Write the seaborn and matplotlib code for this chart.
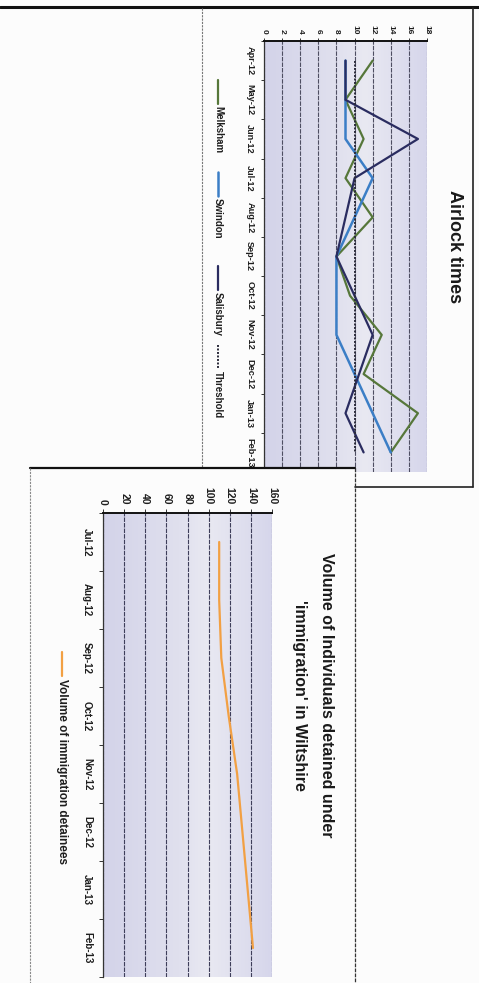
import numpy as np
import pandas as pd
import matplotlib
matplotlib.use("Agg")
import matplotlib.pyplot as plt
import seaborn as sns
from matplotlib.lines import Line2D
from matplotlib.patches import Rectangle
from matplotlib.colors import LinearSegmentedColormap

# ---------------- data ----------------
months1 = ["Apr-12", "May-12", "Jun-12", "Jul-12", "Aug-12", "Sep-12",
           "Oct-12", "Nov-12", "Dec-12", "Jan-13", "Feb-13"]
melksham = [12, 9, 11, 9, 12, 8, 9.5, 13, 11, 17, 14]
swindon = [9, 9, 9, 12, 10, 8, 8, 8, 10, 12, 14]
salisbury = [9, 9, 17, 10, 9, 8, 10, 12, 10.5, 9, 11]
threshold = [10, 10, 10, 10, 10, 10, 10, 10, 10, 10, 10]
series_names1 = ["Melksham", "Swindon", "Salisbury", "Threshold"]
value_ticks1 = [0, 2, 4, 6, 8, 10, 12, 14, 16, 18]

months2 = ["Jul-12", "Aug-12", "Sep-12", "Oct-12", "Nov-12", "Dec-12", "Jan-13", "Feb-13"]
detainees = [110, 110, 112, 119, 127, 132, 137, 142]
value_ticks2 = [0, 20, 40, 60, 80, 100, 120, 140, 160]

title1 = "Airlock times"
title2a = "Volume of Individuals detained under"
title2b = "'immigration' in Wiltshire"
legend2 = "Volume of immigration detainees"

# ---------------- setup ----------------
sns.set_theme(style="white")
plt.rcParams["font.family"] = ["Liberation Sans", "DejaVu Sans"]

W, H = 479, 983
fig = plt.figure(figsize=(W / 100, H / 100), dpi=100)
fig.patch.set_facecolor("#fcfcfc")


def fx(px):
    return px / W


def fy(py):
    return 1 - py / H


styles1 = {
    "Melksham": dict(color="#56773a", lw=1.6, ls="-"),
    "Swindon": dict(color="#3b7ec6", lw=1.8, ls="-"),
    "Salisbury": dict(color="#2a2c60", lw=1.6, ls="-"),
    "Threshold": dict(color="#2b2b3a", lw=1.4, ls=(0, (1, 0.8))),
}

grad_cmap = LinearSegmentedColormap.from_list(
    "bg", [(0.0, "#d3d3e9"), (0.45, "#e0e0ee"), (0.62, "#e9e9f2"), (1.0, "#d6d6eb")])
grad = np.linspace(0, 1, 256).reshape(1, -1)

# ---------------- chart 1 ----------------
ax1 = fig.add_axes([fx(264), fy(472), fx(427) - fx(264), fy(41) - fy(472)])
ax1.set_zorder(0)
ax1.imshow(grad, cmap=grad_cmap, aspect="auto", extent=[0, 1, 0, 1],
           transform=ax1.transAxes, zorder=-2)

df1 = pd.DataFrame({
    "month": months1 * 4,
    "idx": list(range(len(months1))) * 4,
    "value": melksham + swindon + salisbury + threshold,
    "series": sum([[s] * len(months1) for s in series_names1], []),
})
for name in ["Melksham", "Swindon", "Salisbury", "Threshold"]:
    st = styles1[name]
    sns.lineplot(data=df1[df1["series"] == name], x="value", y="idx",
                 orient="y", sort=False, estimator=None, ax=ax1, legend=False,
                 color=st["color"], linewidth=st["lw"], linestyle=st["ls"])

ax1.set_xlim(0, 18)
ax1.set_ylim(len(months1) - 0.5, -0.5)
ax1.set_xlabel("")
ax1.set_ylabel("")
ax1.set_axisbelow(True)
ax1.grid(axis="x", color="#4e4e62", lw=0.8, ls=(0, (4, 1)))
ax1.grid(axis="y", visible=False)
ax1.xaxis.tick_top()
ax1.set_xticks(value_ticks1)
ax1.set_xticklabels([str(v) for v in value_ticks1], rotation=-90,
                    fontsize=6, fontweight="bold", color="#1e1e1e")
ax1.tick_params(axis="x", which="major", top=True, bottom=False, length=2.5,
                width=0.7, color="#333333", pad=2.5)
ax1.set_yticks(range(len(months1)))
ax1.set_yticklabels(months1, rotation=-90, va="center", fontsize=6.6,
                    fontweight="bold", color="#1e1e1e")
ax1.set_yticks(np.arange(-0.5, len(months1)), minor=True)
ax1.tick_params(axis="y", which="major", length=0, pad=7)
ax1.tick_params(axis="y", which="minor", left=True, length=2.5, width=0.7,
                color="#333333")
for s in ["right", "bottom"]:
    ax1.spines[s].set_visible(False)
ax1.spines["top"].set_color("#111111")
ax1.spines["top"].set_linewidth(1.4)
ax1.spines["left"].set_color("#333333")
ax1.spines["left"].set_linewidth(0.9)

fig.text(fx(455), fy(247), title1, rotation=-90, ha="center", va="center",
         fontsize=13, fontweight="bold", color="#1a1a1a")

# legend for chart 1 (rotated like the scan)
leg_starts = [80, 172, 266, 345]
for name, y0 in zip(series_names1, leg_starts):
    st = styles1[name]
    fig.add_artist(Line2D([fx(218), fx(218)], [fy(y0), fy(y0 + 24)],
                          color=st["color"], lw=st["lw"], ls=st["ls"]))
    fig.text(fx(218), fy(y0 + 26), name, rotation=-90, ha="center", va="top",
             fontsize=7, fontweight="bold", color="#1e1e1e")

# ---------------- page frame lines ----------------
fig.add_artist(Line2D([0, 1], [fy(7), fy(7)], color="#111111", lw=2.2, zorder=2))
fig.add_artist(Line2D([fx(202), fx(202)], [fy(8), fy(468)], color="#777777",
                      lw=0.8, ls=(0, (2, 1)), zorder=2))
fig.add_artist(Line2D([fx(473), fx(473)], [fy(8), fy(487)], color="#222222",
                      lw=1.2, zorder=2))
fig.add_artist(Line2D([fx(355), fx(473)], [fy(487), fy(487)], color="#222222",
                      lw=1.2, zorder=2))

# chart 2 box (on top of chart 1)
fig.add_artist(Rectangle((fx(30), 0), fx(355) - fx(30), fy(468),
                         facecolor="#fcfcfc", edgecolor="none", zorder=1))
fig.add_artist(Line2D([fx(30), fx(355)], [fy(468), fy(468)], color="#111111",
                      lw=1.6, zorder=2))
fig.add_artist(Line2D([fx(30), fx(30)], [fy(468), 0], color="#8a8a8a",
                      lw=0.8, ls=(0, (2, 1)), zorder=2))
fig.add_artist(Line2D([fx(355), fx(355)], [fy(468), 0], color="#333333",
                      lw=0.9, ls=(0, (3, 1)), zorder=2))

# ---------------- chart 2 ----------------
ax2 = fig.add_axes([fx(103), fy(977), fx(272) - fx(103), fy(513) - fy(977)])
ax2.set_zorder(3)
ax2.imshow(grad, cmap=grad_cmap, aspect="auto", extent=[0, 1, 0, 1],
           transform=ax2.transAxes, zorder=-2)
df2 = pd.DataFrame({"month": months2, "idx": range(len(months2)),
                    "value": detainees})
sns.lineplot(data=df2, x="value", y="idx", orient="y", sort=False,
             estimator=None, ax=ax2, legend=False, color="#f2a043", linewidth=1.6)
ax2.set_xlim(0, 160)
ax2.set_ylim(len(months2) - 0.5, -0.5)
ax2.set_xlabel("")
ax2.set_ylabel("")
ax2.set_axisbelow(True)
ax2.grid(axis="x", color="#3e3e5a", lw=0.8, ls=(0, (4, 1)))
ax2.grid(axis="y", visible=False)
ax2.xaxis.tick_top()
ax2.set_xticks(value_ticks2)
ax2.set_xticklabels([str(v) for v in value_ticks2], rotation=-90,
                    fontsize=7.5, fontweight="bold", color="#1e1e1e")
ax2.tick_params(axis="x", which="major", top=True, bottom=False, length=3,
                width=0.7, color="#333333", pad=3)
ax2.set_yticks(range(len(months2)))
ax2.set_yticklabels(months2, rotation=-90, va="center", fontsize=7,
                    fontweight="bold", color="#1e1e1e")
ax2.set_yticks(np.arange(-0.5, len(months2)), minor=True)
ax2.tick_params(axis="y", which="major", length=0, pad=8)
ax2.tick_params(axis="y", which="minor", left=True, length=3, width=0.7,
                color="#333333")
for s in ["right", "bottom"]:
    ax2.spines[s].set_visible(False)
ax2.spines["top"].set_color("#111111")
ax2.spines["top"].set_linewidth(1.4)
ax2.spines["left"].set_color("#333333")
ax2.spines["left"].set_linewidth(0.9)

fig.text(fx(327), fy(695), title2a, rotation=-90, ha="center", va="center",
         fontsize=11.5, fontweight="bold", color="#1a1a1a", zorder=4)
fig.text(fx(300), fy(695), title2b, rotation=-90, ha="center", va="center",
         fontsize=11.5, fontweight="bold", color="#1a1a1a", zorder=4)

fig.add_artist(Line2D([fx(62), fx(62)], [fy(652), fy(676)], color="#f2a043",
                      lw=1.6, zorder=4))
fig.text(fx(62), fy(679), legend2, rotation=-90, ha="center", va="top",
         fontsize=8.5, fontweight="bold", color="#1e1e1e", zorder=4)

fig.savefig("out.png", dpi=100, facecolor=fig.get_facecolor())
